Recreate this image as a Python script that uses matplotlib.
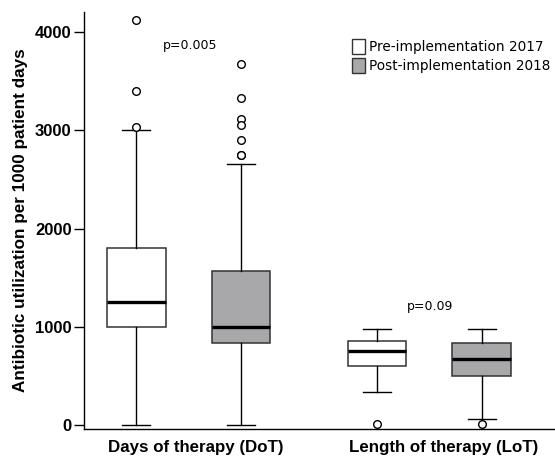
import matplotlib.pyplot as plt
from matplotlib.patches import Patch

# box statistics
groups = ["Days of therapy (DoT)", "Length of therapy (LoT)"]
periods = ["Pre-implementation 2017", "Post-implementation 2018"]
medians = [1250, 1000, 750, 670]
q1 = [1000, 830, 600, 500]
q3 = [1800, 1570, 855, 830]
whislo = [0, 0, 335, 60]
whishi = [3000, 2660, 975, 975]
fliers = [[4120, 3400, 3030],
          [3680, 3330, 3115, 3060, 2905, 2750, 2745],
          [5],
          [5]]
positions = [0, 1, 2.3, 3.3]
fills = ["white", "#a8a8ab", "white", "#a8a8ab"]
yticks = [0, 1000, 2000, 3000, 4000]

stats = []
for i in range(4):
    stats.append(dict(med=medians[i], q1=q1[i], q3=q3[i], whislo=whislo[i],
                      whishi=whishi[i], fliers=fliers[i]))

fig = plt.figure(figsize=(5.55, 4.58), dpi=100)
ax = fig.add_axes([0.1514, 0.0633, 0.8486, 0.9105])

bp = ax.bxp(stats, positions=positions, widths=0.56, patch_artist=True,
            boxprops=dict(edgecolor="#333333", linewidth=1.1),
            medianprops=dict(color="black", linewidth=2.4),
            whiskerprops=dict(color="black", linewidth=1.0),
            capprops=dict(color="black", linewidth=1.0),
            capwidths=0.27,
            flierprops=dict(marker="o", markerfacecolor="white",
                            markeredgecolor="black", markersize=5.5,
                            markeredgewidth=1.0))
for box, c in zip(bp["boxes"], fills):
    box.set_facecolor(c)

ax.set_xlim(-0.5, 4.0)
ax.set_ylim(-41, 4206)
ax.set_yticks(yticks)
ax.set_yticklabels([str(t) for t in yticks], fontsize=12, fontweight="bold",
                   family="Liberation Sans")
ax.tick_params(axis="y", length=7, width=1.0, pad=2)
ax.set_xticks([0.564, 2.935])
ax.set_xticklabels(groups, fontsize=12.2, fontweight="bold",
                   family="Liberation Sans")
ax.tick_params(axis="x", length=0, pad=8)
ax.set_ylabel("Antibiotic utilization per 1000 patient days", fontsize=12.3,
              fontweight="bold", family="Liberation Sans", labelpad=5)

for s in ["top", "right"]:
    ax.spines[s].set_visible(False)
ax.spines["left"].set_linewidth(1.0)
ax.spines["bottom"].set_linewidth(1.0)

ax.text(0.51, 3860, "p=0.005", fontsize=9, family="DejaVu Sans",
        ha="center", va="center")
ax.text(2.81, 1210, "p=0.09", fontsize=9, family="DejaVu Sans",
        ha="center", va="center")

handles = [Patch(facecolor=fills[0], edgecolor="#333333", label=periods[0]),
           Patch(facecolor=fills[1], edgecolor="#333333", label=periods[1])]
ax.legend(handles=handles, loc="upper left", bbox_to_anchor=(0.548, 0.958),
          frameon=False, handlelength=1.0, handleheight=1.3,
          handletextpad=0.3, labelspacing=0.28, borderpad=0.2,
          prop=dict(family="DejaVu Sans", size=9.8))

fig.savefig("out.png", dpi=100)
